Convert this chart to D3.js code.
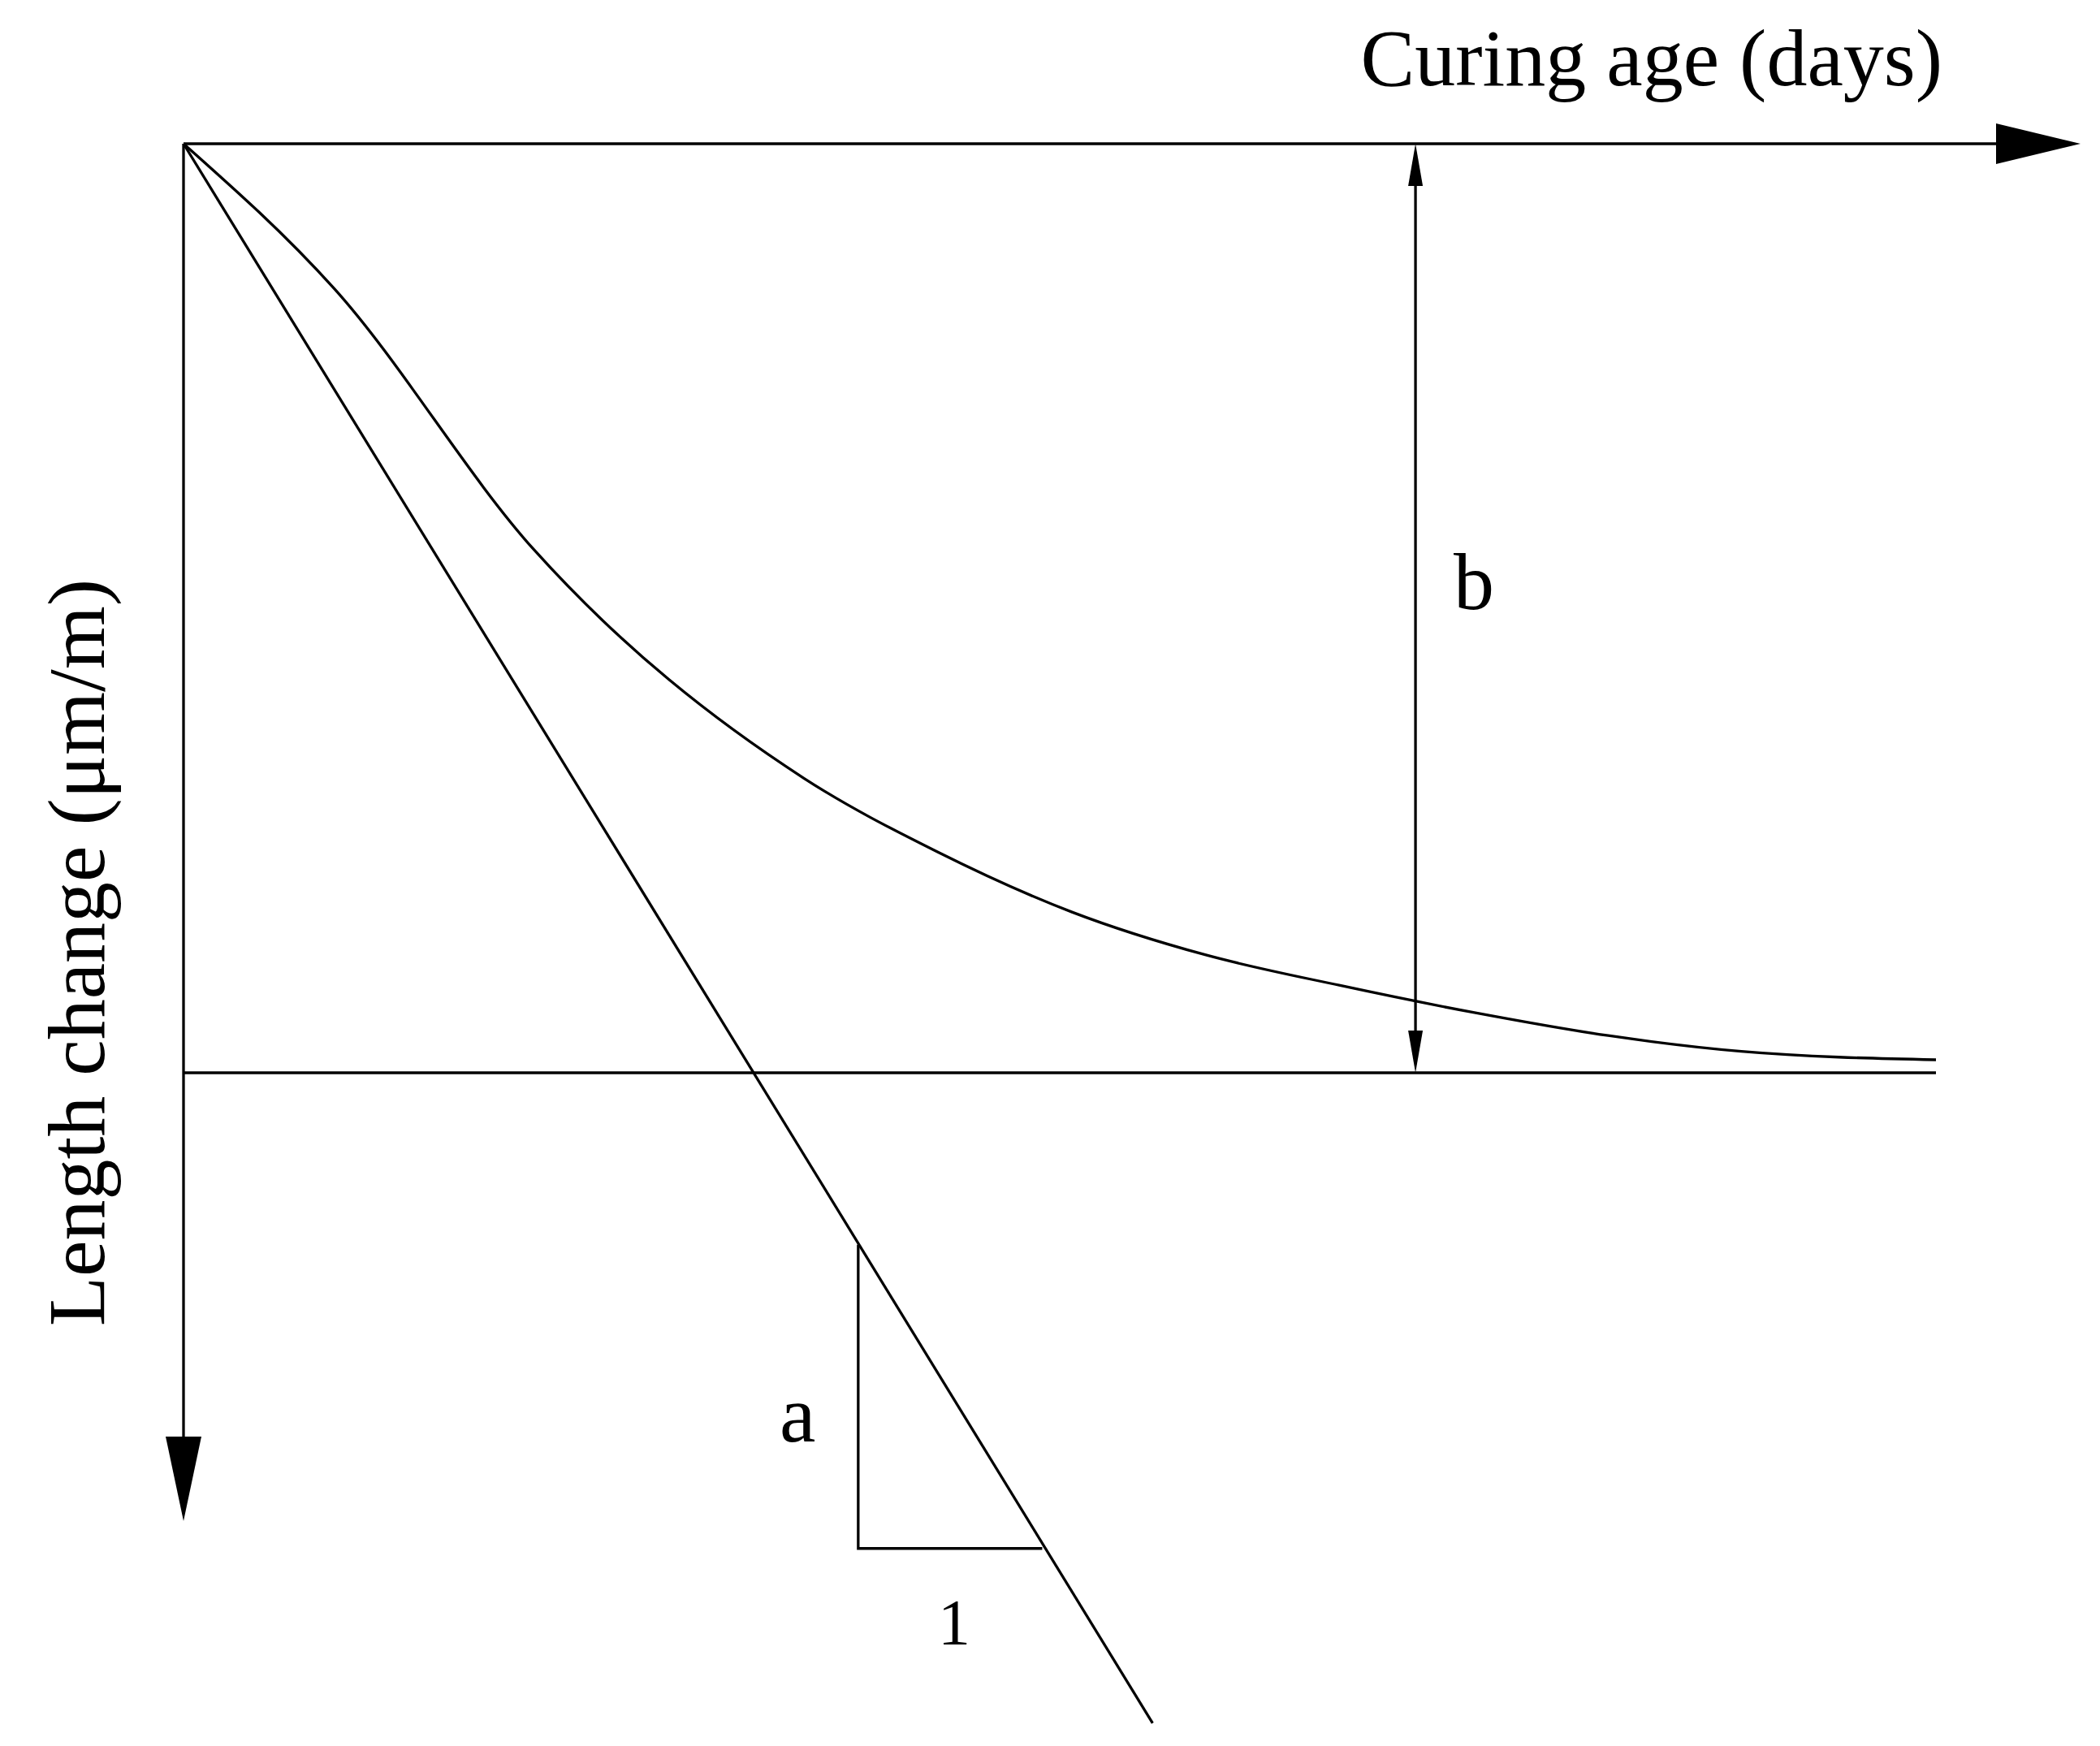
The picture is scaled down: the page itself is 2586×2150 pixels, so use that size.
<!DOCTYPE html>
<html><head><meta charset="utf-8">
<script src="https://cdn.jsdelivr.net/npm/d3@7"></script>
<style>body{margin:0;background:#fff}</style></head>
<body><svg id="c" width="2586" height="2150"></svg>
<script>
const curveT = [0, 8.6, 20, 35.4, 43, 50.7, 58.3, 66, 73.6, 81.3, 88.9, 100];
const curveV = [0, 15.6, 43.7, 68.3, 76.2, 82.7, 87.3, 90.6, 93.5, 96, 97.7, 98.6];
const lineT = [0, 55.3];
const lineV = [0, 170];
const triT = [38.5, 38.5, 49];
const triV = [118.5, 151.2, 151.2];
const bT = 70.3;
const labels = {x: "Curing age (days)", y: "Length change (μm/m)", a: "a", b: "b", one: "1"};

const svg = d3.select("#c");
const x = d3.scaleLinear([0, 100], [226, 2384]);
const y = d3.scaleLinear([0, 100], [177, 1321]);
const sw = 3.3, font = "Liberation Serif, Times New Roman, serif";
const ln = d3.line().x(d => x(d[0])).y(d => y(d[1]));
function path(pts, curve) {
  svg.append("path").attr("d", (curve ? ln.curve(curve) : ln.curve(d3.curveLinear))(pts))
    .attr("fill", "none").attr("stroke", "#000").attr("stroke-width", sw);
}
// axes
svg.append("line").attr("x1", x(0)).attr("y1", y(0)).attr("x2", 2470).attr("y2", y(0)).attr("stroke", "#000").attr("stroke-width", sw);
svg.append("path").attr("d", `M2458,${y(0)-25}L2562,${y(0)}L2458,${y(0)+25}Z`);
svg.append("line").attr("x1", x(0)).attr("y1", y(0)).attr("x2", x(0)).attr("y2", 1780).attr("stroke", "#000").attr("stroke-width", sw);
svg.append("path").attr("d", `M${x(0)-22},1769L${x(0)},1873L${x(0)+22},1769Z`);
// asymptote
path([[0, 100], [100, 100]]);
// curve
path(curveT.map((t, i) => [t, curveV[i]]), d3.curveMonotoneX);
// tangent line
path(lineT.map((t, i) => [t, lineV[i]]));
// triangle
path(triT.map((t, i) => [t, triV[i]]));
// b double arrow
svg.append("line").attr("x1", x(bT)).attr("y1", y(0) + 20).attr("x2", x(bT)).attr("y2", y(100) - 20).attr("stroke", "#000").attr("stroke-width", sw);
svg.append("path").attr("d", `M${x(bT)-9},${y(0)+52}L${x(bT)},${y(0)}L${x(bT)+9},${y(0)+52}Z`);
svg.append("path").attr("d", `M${x(bT)-9},${y(100)-52}L${x(bT)},${y(100)}L${x(bT)+9},${y(100)-52}Z`);
// text
const t = (s, px, py, size, anchor, rot) => {
  const e = svg.append("text").text(s).attr("font-family", font).attr("font-size", size).attr("text-anchor", anchor || "start");
  if (rot) e.attr("transform", `translate(${px},${py}) rotate(-90)`); else e.attr("x", px).attr("y", py);
};
t(labels.x, 2392, 105, 100, "end");
t(labels.y, 128, 1173, 100, "middle", true);
t(labels.b, 1790, 750, 100);
t(labels.a, 960, 1775, 100);
t(labels.one, 1155, 2025, 80);
</script></body></html>
